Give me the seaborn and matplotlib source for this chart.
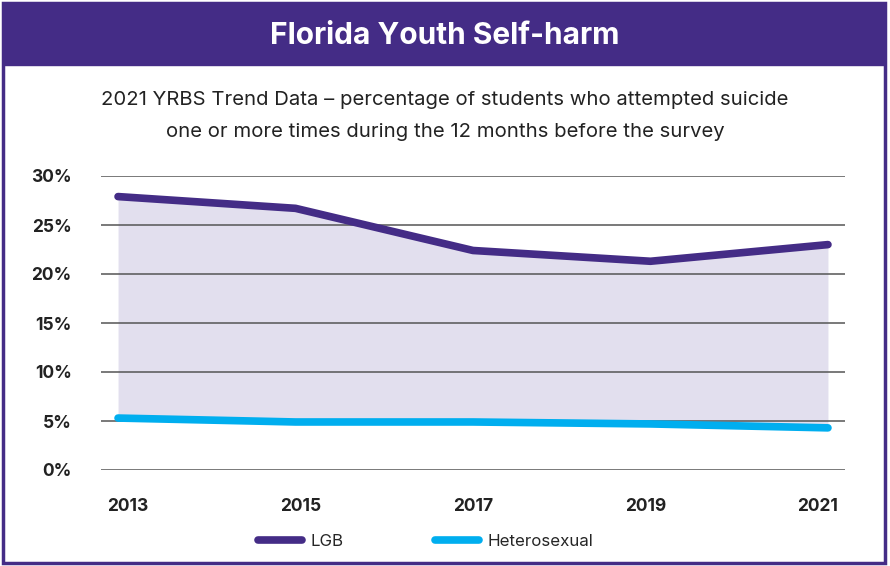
import pandas as pd
import matplotlib.pyplot as plt
import seaborn as sns
from matplotlib.patches import Rectangle
from matplotlib.lines import Line2D

years = ['2013', '2015', '2017', '2019', '2021']
lgb = [27.9, 26.7, 22.4, 21.3, 23.0]
hetero = [5.3, 4.9, 4.9, 4.7, 4.3]
yticks = [0, 5, 10, 15, 20, 25, 30]

purple = '#442c86'
blue = '#00aeef'
fill_col = '#e2dfee'

df = pd.DataFrame({
    'year': list(range(len(years))) * 2,
    'pct': lgb + hetero,
    'group': ['LGB'] * len(years) + ['Heterosexual'] * len(years),
})

sns.set_theme(style='white')
plt.rcParams['font.family'] = ['Inter', 'DejaVu Sans']

W, H = 890, 566
fig = plt.figure(figsize=(W / 100, H / 100), dpi=100)

# frame + title band
fig.patches.append(Rectangle((3 / W, 3 / H), 882 / W, 560 / H, transform=fig.transFigure,
                             facecolor='white', edgecolor=purple, linewidth=2.5, zorder=-2))
fig.patches.append(Rectangle((3 / W, 1 - 65 / H), 882 / W, 62 / H, transform=fig.transFigure,
                             facecolor=purple, edgecolor=purple, zorder=-1))
fig.text(445 / W, 1 - 36 / H, 'Florida Youth Self-harm', color='white', fontsize=21.5,
         fontweight='bold', ha='center', va='center')
fig.text(445 / W, 1 - 100 / H, '2021 YRBS Trend Data \u2013 percentage of students who attempted suicide',
         color='#222222', fontsize=14.6, ha='center', va='center')
fig.text(445 / W, 1 - 132 / H, 'one or more times during the 12 months before the survey',
         color='#222222', fontsize=14.6, ha='center', va='center')

ax = fig.add_axes([101 / W, (H - 470) / H, 744 / W, 294 / H])
ax.set_zorder(2)
ax.set_facecolor('none')

x = list(range(len(years)))
ax.fill_between(x, hetero, lgb, color=fill_col, zorder=1, linewidth=0)
for yv in yticks:
    ax.axhline(yv, color='#555555', linewidth=1.1, zorder=2)

sns.lineplot(data=df, x='year', y='pct', hue='group', ax=ax,
             palette={'LGB': purple, 'Heterosexual': blue},
             linewidth=5.5, solid_capstyle='round', legend=False, zorder=3)

ax.set_xlim(-0.096, 4.096)
ax.set_ylim(0, 30)
# year labels sit slightly inward of the data points
ax.set_xticks([i + (2 - i) * 0.028 for i in x])
ax.set_xticklabels(years, fontsize=12.5, fontweight='bold', color='#222222')
ax.set_yticks(yticks)
ax.set_yticklabels([f'{v}%' for v in yticks], fontsize=12.5, fontweight='bold', color='#222222')
ax.tick_params(axis='x', length=0, pad=20)
ax.tick_params(axis='y', length=0, pad=21)
sns.despine(ax=ax, left=True, bottom=True)
ax.set_xlabel('')
ax.set_ylabel('')

handles = [Line2D([], [], color=purple, linewidth=5.5, solid_capstyle='round'),
           Line2D([], [], color=blue, linewidth=5.5, solid_capstyle='round')]
fig.legend(handles, ['LGB', 'Heterosexual'], loc='center', bbox_to_anchor=(426 / W, 1 - 541 / H),
           ncol=2, frameon=False, fontsize=12.2, handlelength=2.6, columnspacing=5.4,
           handletextpad=0.5)

fig.savefig('out.png', dpi=100)
